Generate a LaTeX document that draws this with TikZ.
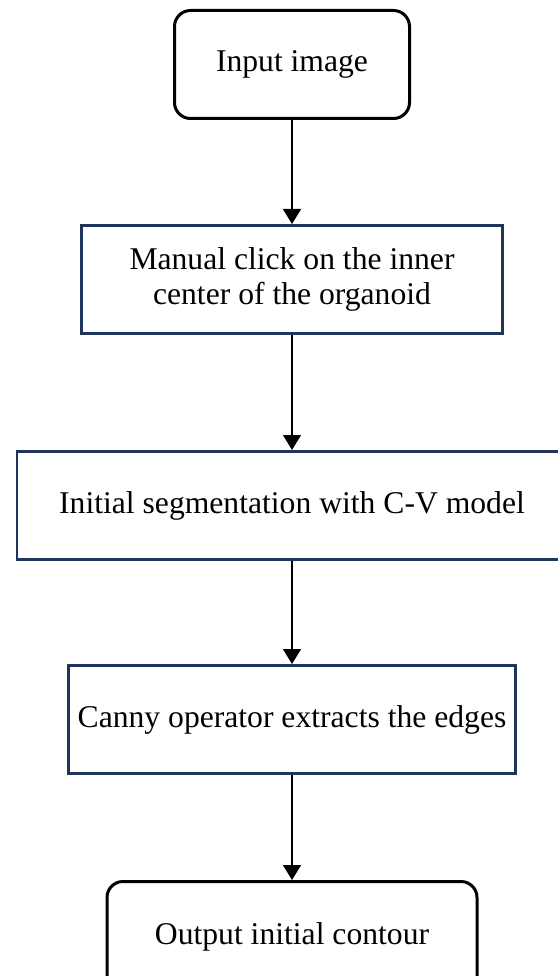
\documentclass[tikz,border=0pt]{standalone}
\usepackage{fontspec}
\setmainfont{Liberation Serif}
\usetikzlibrary{positioning,arrows.meta}
\definecolor{navyframe}{RGB}{31, 52, 92}

\begin{document}
\begin{tikzpicture}[
    node distance=2.1cm,
    every node/.style={font=\fontsize{18}{19.5}\selectfont},
    endbox/.style={draw=black, rounded corners=0.32cm, line width=0.06cm, align=center,
        minimum height=2.16cm, fill=white},
    stepbox/.style={draw=navyframe, line width=0.06cm, align=center,
        minimum height=2.16cm, fill=white},
    arrow/.style={-{Triangle[length=0.3cm, width=0.36cm]}, line width=0.03cm, draw=black}
]
\useasboundingbox (0,0) rectangle (11.14,-19.52);
\node[endbox, minimum width=4.7cm] (input) at (5.84,-1.29) {Input image};
\node[stepbox, minimum width=8.42cm, below=2.08cm of input] (click) {Manual click on the inner\\center of the organoid};
\node[stepbox, minimum width=11.0cm, below=2.3cm of click] (cv) {Initial segmentation with C-V model};
\node[stepbox, minimum width=8.95cm, below=2.06cm of cv] (canny) {Canny operator extracts the edges};
\node[endbox, minimum width=7.4cm, minimum height=2.22cm, below=2.1cm of canny] (output) {Output initial contour};
\draw[arrow] (input) -- (click);
\draw[arrow] (click) -- (cv);
\draw[arrow] (cv) -- (canny);
\draw[arrow] (canny) -- (output);
\end{tikzpicture}
\end{document}
